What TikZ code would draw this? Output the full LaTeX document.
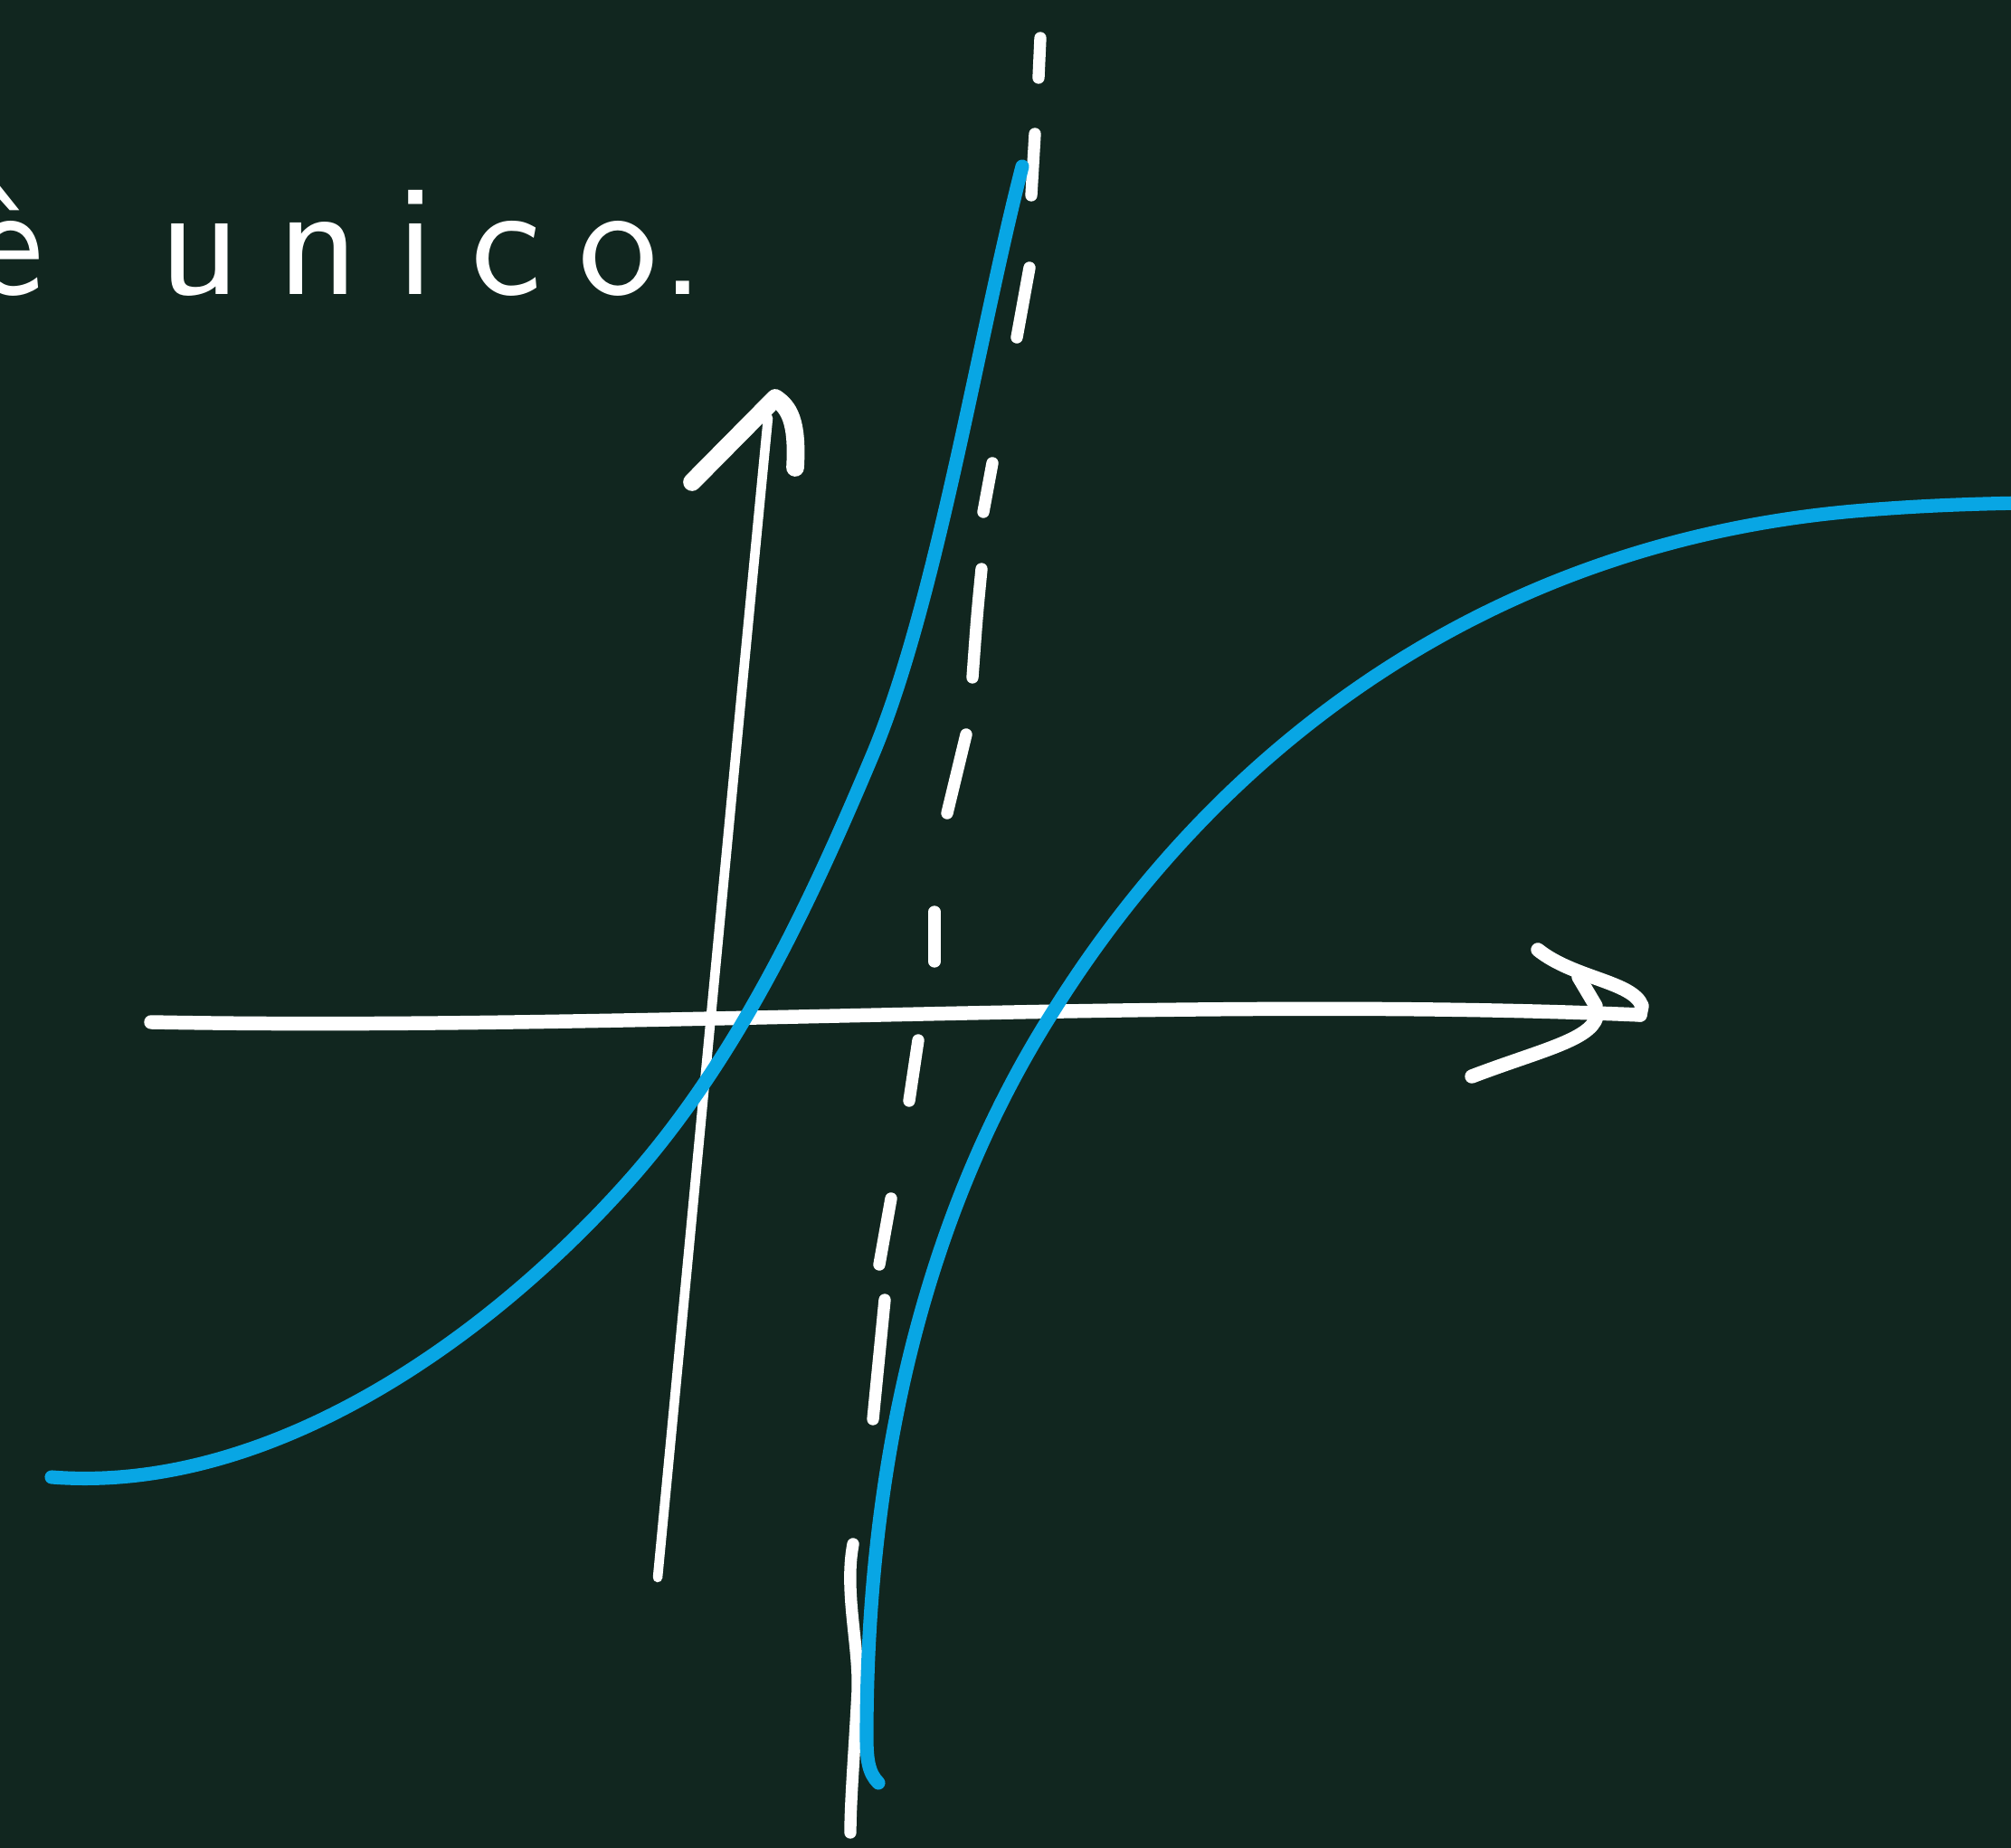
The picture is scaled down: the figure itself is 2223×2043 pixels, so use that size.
\documentclass[tikz,border=0pt]{standalone}
\usepackage{fontspec}
\newfontfamily\handfont{lmsans10-regular.otf}[LetterSpace=23]
\definecolor{board}{RGB}{17,38,31}
\definecolor{ink}{RGB}{8,166,228}
\begin{document}
\begin{tikzpicture}[x=0.01cm,y=-0.01cm,
  chalk/.style={draw=white,line cap=round,line join=round},
  axisline/.style={chalk,line width=4.4pt},
  thinaxis/.style={chalk,line width=3pt},
  headstroke/.style={chalk,line width=5.6pt},
  dashseg/.style={chalk,line width=3.8pt},
  graph/.style={draw=ink,line width=4.3pt,line cap=round,line join=round}]
\useasboundingbox (0,0) rectangle (2223,2043);
\fill[board] (0,0) rectangle (2223,2043);
\clip (0,0) rectangle (2223,2043);

% text
\node[anchor=base west,text=white,inner sep=0pt] (txt) at (-30,326)
  {\handfont\fontsize{50pt}{52pt}\selectfont è\hspace*{36pt}unico\kern1pt.};

% horizontal axis
\coordinate (hL) at (167,1130);
\coordinate (hR) at (1813,1122);
\draw[axisline] (hL) .. controls (700,1140) and (1300,1100) .. (hR);
\draw[axisline] (1700,1050) .. controls (1740,1082) and (1805,1085) .. (1815,1112) -- (hR);
\draw[axisline] (1745,1080) -- (1764,1112);
\draw[axisline] (1765,1124) .. controls (1758,1150) and (1700,1162) .. (1627,1190);

% vertical axis
\coordinate (vB) at (727,1744);
\coordinate (vT) at (849,462);
\draw[thinaxis] (vB) .. controls (760,1400) and (820,760) .. (vT);
\draw[headstroke] (765,533) -- (857,440) .. controls (872,450) and (882,465) .. (879,517);

% dashed asymptote
\draw[dashseg] (1150,42) -- (1148,86);
\draw[dashseg] (1144,148) -- (1140,216);
\draw[dashseg] (1138,296) -- (1124,373);
\draw[dashseg] (1097,512) -- (1087,566);
\draw[dashseg] (1085,629) .. controls (1080,680) .. (1075,749);
\draw[dashseg] (1068,812) -- (1047,899);
\draw[dashseg] (1033,1008) -- (1033,1063);
\draw[dashseg] (1015,1150) -- (1005,1217);
\draw[dashseg] (985,1325) -- (972,1398);
\draw[dashseg] (978,1437) -- (965,1569);
\draw[dashseg] (943,1707) .. controls (933,1760) and (950,1820) .. (948,1870) .. controls (945,1930) and (940,1990) .. (940,2026);

% left branch
\draw[graph] (57,1633) .. controls (297,1652) and (541,1481) .. (700,1300)
  .. controls (817,1166) and (895,1000) .. (964,836)
  .. controls (1035,668) and (1082,370) .. (1130,184);

% right branch
\draw[graph] (971,1971) .. controls (960,1960) and (958,1945) .. (958,1920)
  .. controls (958,1600) and (1030,1330) .. (1163,1120)
  .. controls (1350,820) and (1650,600) .. (2050,565)
  .. controls (2120,559) and (2180,557) .. (2240,556);
\end{tikzpicture}
\end{document}
